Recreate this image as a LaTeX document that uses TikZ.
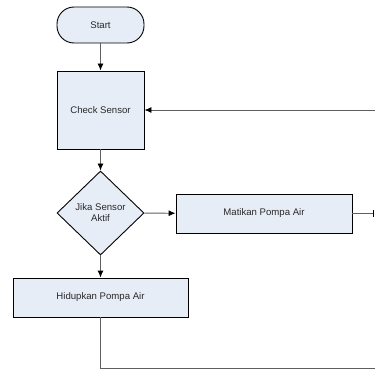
\documentclass[tikz,border=0pt]{standalone}
\usepackage{fontspec}
\setmainfont{Liberation Sans}
\usetikzlibrary{arrows.meta,shapes.geometric,positioning}
\definecolor{boxfill}{RGB}{231,237,247}
\definecolor{linegray}{RGB}{95,95,95}
\definecolor{textgray}{RGB}{40,40,40}
\tikzset{
	flowbox/.style={draw=black, fill=boxfill, line width=0.9pt, inner sep=0pt,
		text=textgray, align=center, font=\fontsize{9.6}{11}\selectfont},
	startbox/.style={flowbox, rounded corners=17pt},
	askbox/.style={flowbox, diamond},
	flowline/.style={draw=linegray, line width=0.9pt},
	flowarrow/.style={flowline, -{Latex[length=7pt,width=6pt,color=black]}}
}

\begin{document}
\begin{tikzpicture}[x=1pt, y=-1pt]
	\useasboundingbox (0,0) rectangle (375,369);
	\node[startbox, minimum width=87pt, minimum height=36pt] (start) at (100.5,25) {Start};
	\node[flowbox, minimum width=87pt, minimum height=78pt] (check) at (100.5,110) {Check Sensor};
	\node[askbox, minimum width=87pt, minimum height=84pt] (cond) at (100.5,213) {Jika Sensor\\Aktif};
	\node[flowbox, minimum width=176pt, minimum height=39pt] (off) at (264,213.5) {Matikan Pompa Air};
	\node[flowbox, minimum width=175pt, minimum height=39pt] (on) at (100.5,297.5) {Hidupkan Pompa Air};
	\coordinate (offend) at (374,213.5);
	\coordinate (backin) at (375,110);
	\coordinate (onend) at (375,368);

	\draw[flowarrow] (start) -- (check);
	\draw[flowarrow] (check) -- (cond);
	\draw[flowarrow] (cond) -- (off);
	\draw[flowarrow] (cond) -- (on);
	\draw[flowline, -{Bar[width=7pt,color=black]}] (off) -- (offend);
	\draw[flowarrow] (backin) -- (check);
	\draw[flowline] (on) |- (onend);
\end{tikzpicture}
\end{document}
